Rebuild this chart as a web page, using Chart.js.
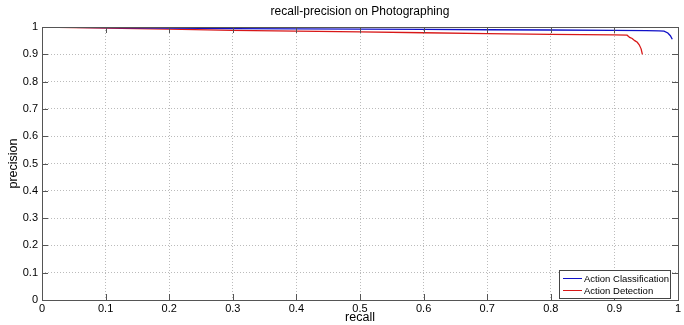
<!DOCTYPE html>
<html>
<head>
<meta charset="utf-8">
<script src="https://cdn.jsdelivr.net/npm/chart.js@4/dist/chart.umd.min.js"></script>
<style>
  html, body { margin: 0; padding: 0; background: #fff; }
  #wrap { width: 684px; height: 325px; position: relative; }
</style>
</head>
<body>
<div id="wrap"><canvas id="prChart" width="684" height="325"></canvas></div>
<script>
const chartTitle = 'recall-precision on Photographing';
const xLabel = 'recall';
const yLabel = 'precision';
const tickValues = [0, 0.1, 0.2, 0.3, 0.4, 0.5, 0.6, 0.7, 0.8, 0.9, 1];

const seriesNames = ['Action Classification', 'Action Detection'];

const clsRecall    = [0, 0.1, 0.2, 0.3, 0.4, 0.5, 0.6, 0.7, 0.8, 0.9, 0.95, 0.97, 0.978, 0.984, 0.988, 0.991];
const clsPrecision = [1, 0.998, 0.996, 0.994, 0.993, 0.992, 0.991, 0.990, 0.989, 0.988, 0.987, 0.986, 0.985, 0.978, 0.968, 0.955];

const detRecall    = [0, 0.1, 0.2, 0.3, 0.4, 0.5, 0.6, 0.7, 0.8, 0.9, 0.92, 0.924, 0.928, 0.932, 0.936, 0.939, 0.942, 0.944];
const detPrecision = [1, 0.996, 0.992, 0.988, 0.985, 0.982, 0.979, 0.976, 0.973, 0.971, 0.970, 0.962, 0.958, 0.950, 0.944, 0.935, 0.920, 0.900];

const toPoints = (xs, ys) => xs.map((x, i) => ({ x: x, y: ys[i] }));

const FONT = '"Liberation Sans", Arial, sans-serif';

// MATLAB-style frame, inward ticks, title, axis labels, legend box
const matlabFrame = {
  id: 'matlabFrame',
  afterDraw(chart) {
    const ctx = chart.ctx;
    const a = chart.chartArea;
    const xs = chart.scales.x, ys = chart.scales.y;
    ctx.save();
    ctx.strokeStyle = '#555';
    ctx.lineWidth = 1;
    ctx.strokeRect(Math.round(a.left) + 0.5, Math.round(a.top) + 0.5,
                   Math.round(a.right - a.left), Math.round(a.bottom - a.top));
    // inward ticks
    ctx.beginPath();
    tickValues.forEach(v => {
      const px = Math.round(xs.getPixelForValue(v)) + 0.5;
      ctx.moveTo(px, a.bottom); ctx.lineTo(px, a.bottom - 6);
      ctx.moveTo(px, a.top); ctx.lineTo(px, a.top + 6);
      const py = Math.round(ys.getPixelForValue(v)) + 0.5;
      ctx.moveTo(a.left, py); ctx.lineTo(a.left + 6, py);
      ctx.moveTo(a.right, py); ctx.lineTo(a.right - 6, py);
    });
    ctx.stroke();

    ctx.fillStyle = '#000';
    ctx.font = '12px ' + FONT;
    ctx.textAlign = 'center';
    ctx.textBaseline = 'middle';
    ctx.fillText(chartTitle, (a.left + a.right) / 2, 12);
    ctx.font = '12.5px ' + FONT;
    ctx.fillText(xLabel, (a.left + a.right) / 2, 318);
    ctx.save();
    ctx.translate(14, (a.top + a.bottom) / 2);
    ctx.rotate(-Math.PI / 2);
    ctx.fillText(yLabel, 0, 0);
    ctx.restore();

    // legend
    const lx = 559, ly = 270, lw = 111, lh = 28;
    ctx.fillStyle = '#fff';
    ctx.fillRect(lx, ly, lw, lh);
    ctx.strokeStyle = '#444';
    ctx.strokeRect(lx + 0.5, ly + 0.5, lw, lh);
    ctx.font = '9.5px ' + FONT;
    ctx.textAlign = 'left';
    chart.data.datasets.forEach((ds, i) => {
      const yy = ly + 8 + i * 12;
      ctx.strokeStyle = ds.borderColor;
      ctx.lineWidth = 1;
      ctx.beginPath();
      ctx.moveTo(lx + 4, yy + 0.5); ctx.lineTo(lx + 23, yy + 0.5);
      ctx.stroke();
      ctx.fillStyle = '#000';
      ctx.fillText(ds.label, lx + 25, yy + 1);
    });
    ctx.restore();
  }
};

new Chart(document.getElementById('prChart'), {
  type: 'line',
  data: {
    datasets: [
      { label: seriesNames[0], data: toPoints(clsRecall, clsPrecision), borderColor: '#1010c8', borderWidth: 1.3, pointRadius: 0, tension: 0 },
      { label: seriesNames[1], data: toPoints(detRecall, detPrecision), borderColor: '#d81818', borderWidth: 1.3, pointRadius: 0, tension: 0 }
    ]
  },
  options: {
    responsive: false,
    animation: false,
    layout: { padding: { top: 27, right: 6, left: 0, bottom: 0 } },
    plugins: { legend: { display: false }, title: { display: false }, tooltip: { enabled: false } },
    scales: {
      x: {
        type: 'linear', min: 0, max: 1,
        afterFit: s => { s.height = 25; },
        afterBuildTicks: s => { s.ticks = tickValues.map(v => ({ value: v })); },
        grid: { color: '#bbb', tickLength: 0, drawTicks: false },
        border: { display: false, dash: [1, 2] },
        ticks: { font: { family: FONT, size: 11 }, color: '#000', padding: 2, maxRotation: 0,
                 callback: v => String(Math.round(v * 10) / 10) }
      },
      y: {
        type: 'linear', min: 0, max: 1,
        afterFit: s => { s.width = 42; },
        afterBuildTicks: s => { s.ticks = tickValues.map(v => ({ value: v })); },
        grid: { color: '#bbb', tickLength: 0, drawTicks: false },
        border: { display: false, dash: [1, 2] },
        ticks: { font: { family: FONT, size: 11 }, color: '#000', padding: 4,
                 callback: v => String(Math.round(v * 10) / 10) }
      }
    }
  },
  plugins: [matlabFrame]
});
</script>
</body>
</html>
